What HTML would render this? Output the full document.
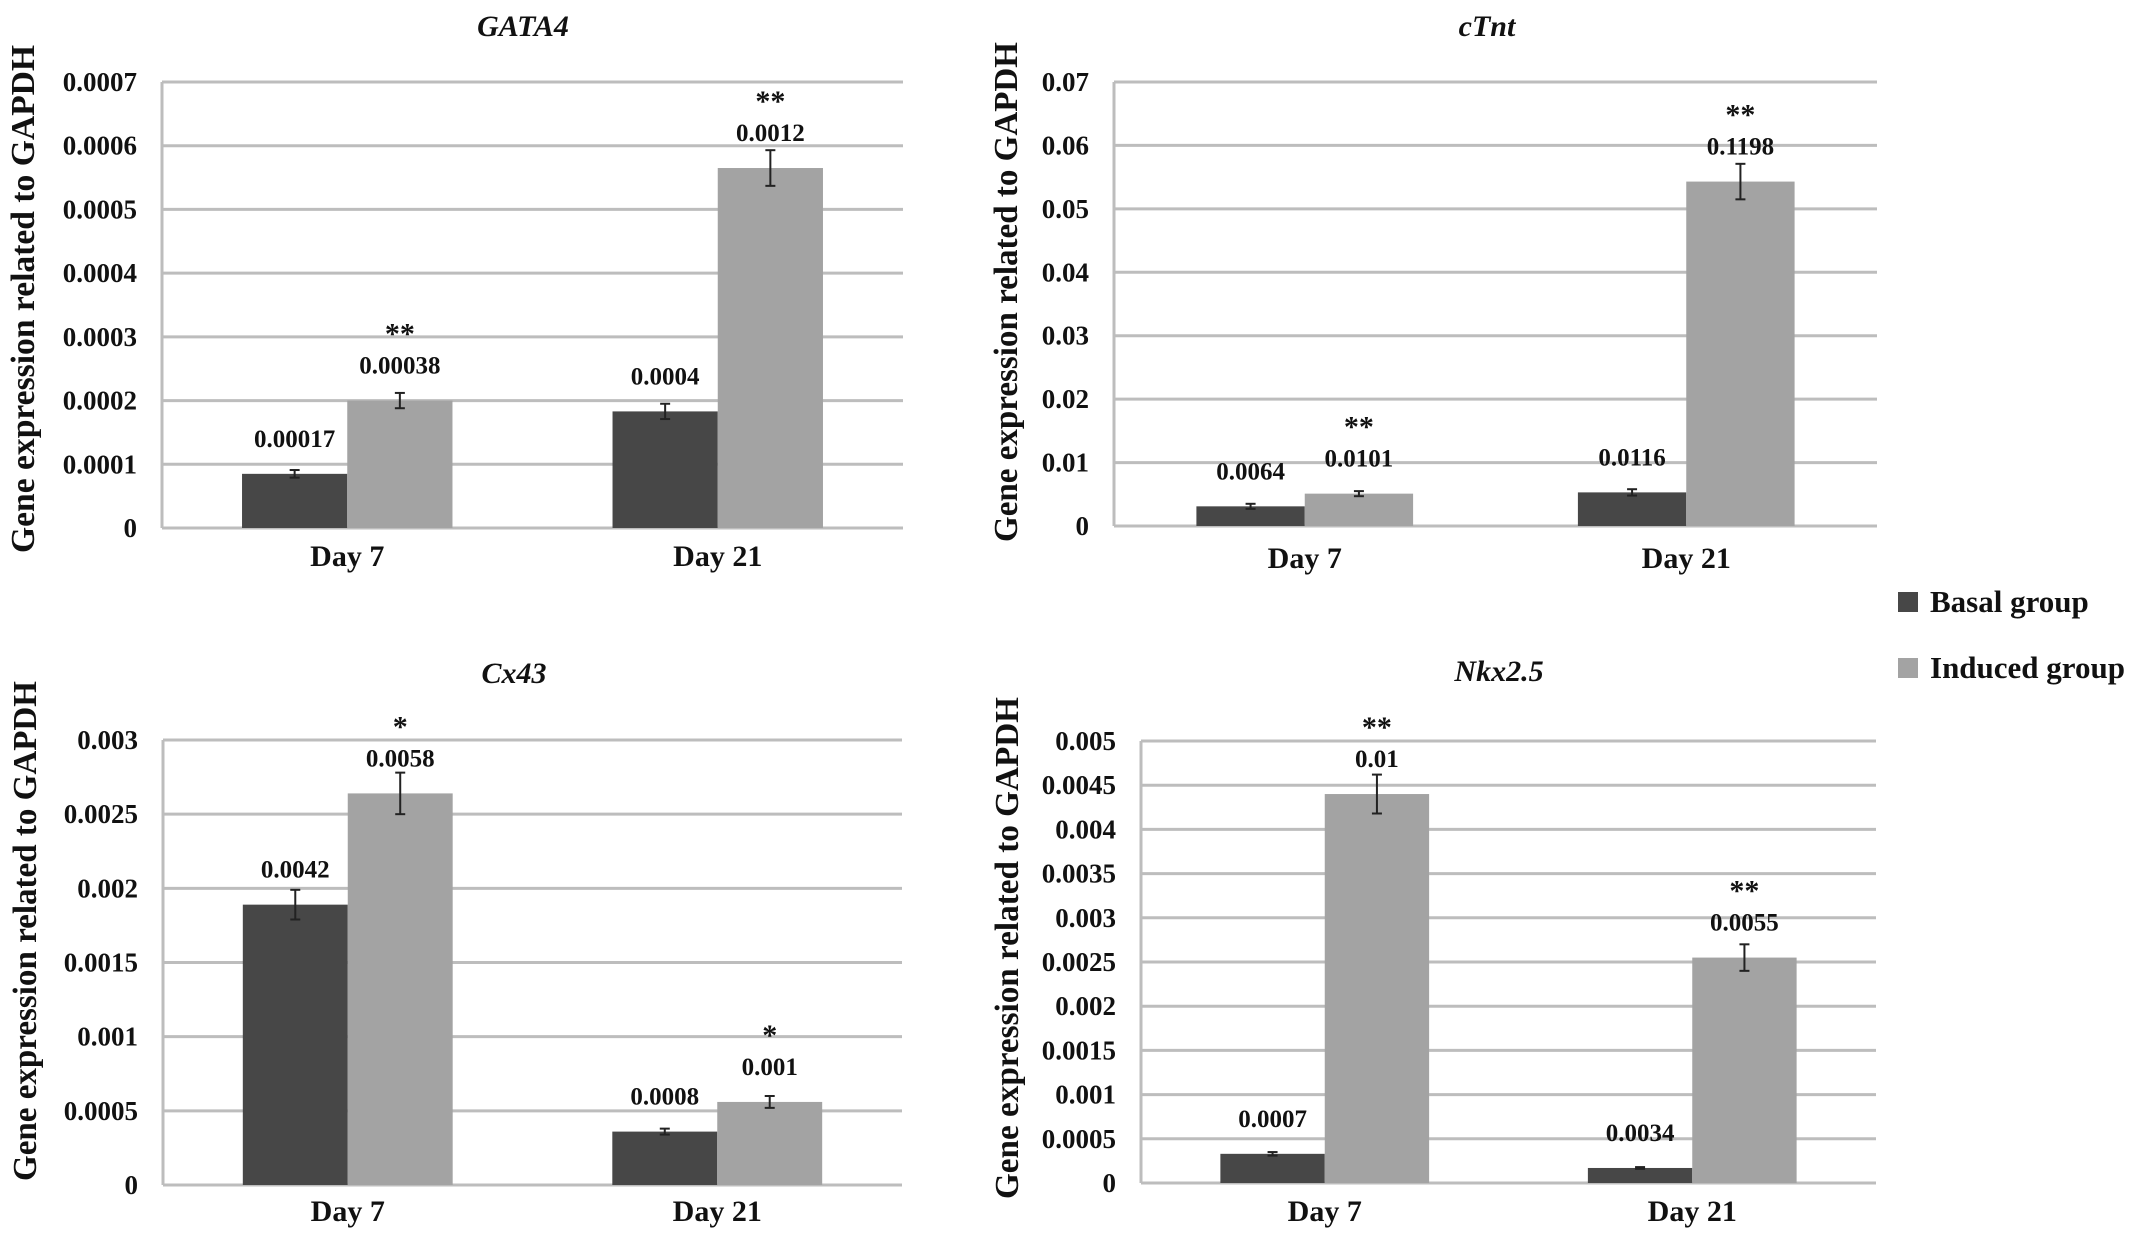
<!DOCTYPE html>
<html><head><meta charset="utf-8">
<style>
html,body{margin:0;padding:0;background:#fff;}
svg{display:block;}
text{font-family:"Liberation Serif",serif;font-weight:bold;fill:#111;}
</style></head>
<body>
<svg id="chart" width="2150" height="1246" viewBox="0 0 2150 1246" xmlns="http://www.w3.org/2000/svg">
<g>
  <rect x="1898" y="592" width="20" height="20" fill="#474747"/>
  <text x="1930" y="612" font-size="31">Basal group</text>
  <rect x="1898" y="658" width="20" height="20" fill="#a3a3a3"/>
  <text x="1930" y="678" font-size="31">Induced group</text>
</g>
</svg>
<script>
const categories = ["Day 7", "Day 21"];
const gataBasal = [0.000085, 0.000183];
const gataInduced = [0.0002, 0.000565];
const gataBasalErr = [0.000006, 0.000012];
const gataInducedErr = [0.000012, 0.000028];
const gataBasalLabels = ["0.00017", "0.0004"];
const gataInducedLabels = ["0.00038", "0.0012"];
const gataStars = ["**", "**"];
const gataTicks = ["0","0.0001","0.0002","0.0003","0.0004","0.0005","0.0006","0.0007"];

const ctntBasal = [0.0031, 0.0053];
const ctntInduced = [0.0051, 0.0543];
const ctntBasalErr = [0.0004, 0.0005];
const ctntInducedErr = [0.0004, 0.0028];
const ctntBasalLabels = ["0.0064", "0.0116"];
const ctntInducedLabels = ["0.0101", "0.1198"];
const ctntStars = ["**", "**"];
const ctntTicks = ["0","0.01","0.02","0.03","0.04","0.05","0.06","0.07"];

const cxBasal = [0.00189, 0.00036];
const cxInduced = [0.00264, 0.00056];
const cxBasalErr = [0.0001, 0.00002];
const cxInducedErr = [0.00014, 0.00004];
const cxBasalLabels = ["0.0042", "0.0008"];
const cxInducedLabels = ["0.0058", "0.001"];
const cxStars = ["*", "*"];
const cxTicks = ["0","0.0005","0.001","0.0015","0.002","0.0025","0.003"];

const nkxBasal = [0.00033, 0.00017];
const nkxInduced = [0.0044, 0.00255];
const nkxBasalErr = [0.00002, 0.00001];
const nkxInducedErr = [0.00022, 0.00015];
const nkxBasalLabels = ["0.0007", "0.0034"];
const nkxInducedLabels = ["0.01", "0.0055"];
const nkxStars = ["**", "**"];
const nkxTicks = ["0","0.0005","0.001","0.0015","0.002","0.0025","0.003","0.0035","0.004","0.0045","0.005"];

const NS = "http://www.w3.org/2000/svg";
const svg = document.getElementById("chart");
function mk(tag, attrs, parent, txt){
  const e = document.createElementNS(NS, tag);
  for (const k in attrs) e.setAttribute(k, attrs[k]);
  if (txt !== undefined) e.textContent = txt;
  parent.appendChild(e);
  return e;
}

function panel(p){
  const g = mk("g", {}, svg);
  
  
  const ticks = p.ticks;
  const maxV = parseFloat(ticks[ticks.length-1]);
  const y = v => p.bottom - (v / maxV) * (p.bottom - p.top);
  const catW = (p.right - p.left) / categories.length;
  const xc = i => p.left + catW * (i + 0.5);
  const bw = catW * 0.284;

  // gridlines & ticks
  ticks.forEach(t => {
    const yy = y(parseFloat(t));
    const l = mk("line", {x1:p.left, x2:p.right, y1:yy, y2:yy, stroke:"#bdbdbd", "stroke-width":3}, g);
    
    
    const tl = mk("text", {x:p.left-25, y:yy+9, "font-size":27, "text-anchor":"end"}, g, t);
    
    
  });
  const ax = mk("line", {x1:p.left, x2:p.left, y1:p.top, y2:p.bottom, stroke:"#bdbdbd", "stroke-width":3}, g);
  
  

  // title
  const tt = mk("text", {x:p.titleX, y:p.titleY, "font-size":30, "font-style":"italic", "text-anchor":"middle"}, g, p.title);
  
  

  // y axis title
  const cy = (p.ytTop + p.ytBottom) / 2;
  const yt = mk("text", {x:0, y:0, "font-size":34, "text-anchor":"middle", textLength:(p.ytBottom-p.ytTop), lengthAdjust:"spacingAndGlyphs",
    transform:"translate(" + (p.ytX + 12) + "," + cy + ") rotate(-90)"}, g, "Gene expression related to GAPDH");
  
  

  categories.forEach((c, i) => {
    const series = [
      {v:p.basal[i], e:p.basalErr[i], lab:p.basalLabels[i], col:"#474747", x0:xc(i)-bw, n:"basal"},
      {v:p.induced[i], e:p.inducedErr[i], lab:p.inducedLabels[i], col:"#a3a3a3", x0:xc(i), n:"induced"}
    ];
    series.forEach(s => {
      const top = y(s.v);
      const b = mk("rect", {x:s.x0, y:top, width:bw, height:p.bottom-top, fill:s.col}, g);
      
      
      const mx = s.x0 + bw/2;
      const eg = mk("g", {stroke:"#222", "stroke-width":2}, g);
      
      
      mk("line", {x1:mx, x2:mx, y1:y(s.v+s.e), y2:y(s.v-s.e)}, eg);
      mk("line", {x1:mx-5, x2:mx+5, y1:y(s.v+s.e), y2:y(s.v+s.e)}, eg);
      mk("line", {x1:mx-5, x2:mx+5, y1:y(s.v-s.e), y2:y(s.v-s.e)}, eg);
      const base = top - 27;
      const dl = mk("text", {x:mx, y:base, "font-size":25, "text-anchor":"middle"}, g, s.lab);
      
      
      if (s.n === "induced") {
        const st = mk("text", {x:mx, y:base-30, "font-size":30, "text-anchor":"middle"}, g, p.stars[i]);
        
        
      }
    });
    const cl = mk("text", {x:xc(i), y:p.dayY, "font-size":30, "text-anchor":"middle"}, g, c);
    
    
  });
}

panel({name:"gata4", title:"GATA4", left:162, right:903, top:82, bottom:528, titleX:523, titleY:36,
  ytX:22, ytTop:45, ytBottom:553, dayY:566,
  ticks:gataTicks, basal:gataBasal, induced:gataInduced, basalErr:gataBasalErr, inducedErr:gataInducedErr,
  basalLabels:gataBasalLabels, inducedLabels:gataInducedLabels, stars:gataStars});
panel({name:"ctnt", title:"cTnt", left:1114, right:1877, top:82, bottom:526, titleX:1487, titleY:36,
  ytX:1005, ytTop:42, ytBottom:542, dayY:568,
  ticks:ctntTicks, basal:ctntBasal, induced:ctntInduced, basalErr:ctntBasalErr, inducedErr:ctntInducedErr,
  basalLabels:ctntBasalLabels, inducedLabels:ctntInducedLabels, stars:ctntStars});
panel({name:"cx43", title:"Cx43", left:163, right:902, top:740, bottom:1185, titleX:514, titleY:683,
  ytX:24, ytTop:681, ytBottom:1181, dayY:1221,
  ticks:cxTicks, basal:cxBasal, induced:cxInduced, basalErr:cxBasalErr, inducedErr:cxInducedErr,
  basalLabels:cxBasalLabels, inducedLabels:cxInducedLabels, stars:cxStars});
panel({name:"nkx25", title:"Nkx2.5", left:1141, right:1876, top:741, bottom:1183, titleX:1499, titleY:681,
  ytX:1006, ytTop:697, ytBottom:1199, dayY:1221,
  ticks:nkxTicks, basal:nkxBasal, induced:nkxInduced, basalErr:nkxBasalErr, inducedErr:nkxInducedErr,
  basalLabels:nkxBasalLabels, inducedLabels:nkxInducedLabels, stars:nkxStars});
</script>
</body></html>
